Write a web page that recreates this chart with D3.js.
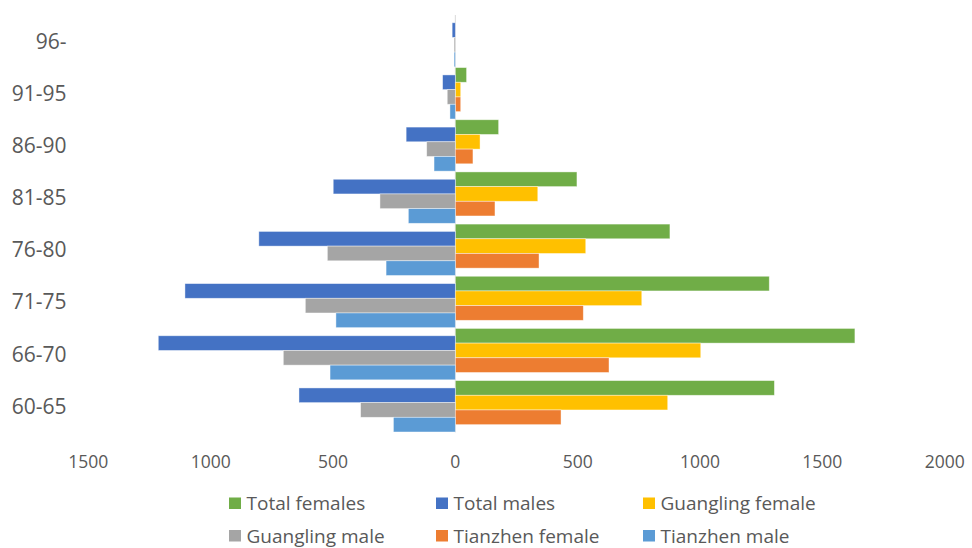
<!DOCTYPE html>
<html>
<head>
<meta charset="utf-8">
<script src="https://cdn.jsdelivr.net/npm/d3@7"></script>
<style>
  html, body { margin: 0; padding: 0; background: #fff; }
  svg { display: block; }
  text { font-family: "Open Sans", "Noto Sans", sans-serif; fill: #595959; }
</style>
</head>
<body>
<svg id="chart" width="972" height="548"></svg>
<script>
// Age groups, bottom to top
const categories = ["60-65", "66-70", "71-75", "76-80", "81-85", "86-90", "91-95", "96-"];

// Head counts per age group (males are drawn to the left of zero)
const totalFemales    = [1304, 1633, 1283, 877, 497, 177, 46, 0];
const totalMales      = [639, 1214, 1105, 803, 499, 201, 52, 13];
const guanglingFemale = [868, 1003, 762, 533, 337, 101, 22, 0];
const guanglingMale   = [387, 703, 613, 523, 308, 117, 33, 5];
const tianzhenFemale  = [432, 628, 523, 342, 162, 72, 22, 0];
const tianzhenMale    = [253, 512, 488, 283, 192, 87, 22, 5];

const tickValues = [-1500, -1000, -500, 0, 500, 1000, 1500, 2000];

const series = [
  { name: "Total females",    values: totalFemales,    sign: 1,  color: "#70AD47" },
  { name: "Total males",      values: totalMales,      sign: -1, color: "#4472C4" },
  { name: "Guangling female", values: guanglingFemale, sign: 1,  color: "#FFC000" },
  { name: "Guangling male",   values: guanglingMale,   sign: -1, color: "#A5A5A5" },
  { name: "Tianzhen female",  values: tianzhenFemale,  sign: 1,  color: "#ED7D31" },
  { name: "Tianzhen male",    values: tianzhenMale,    sign: -1, color: "#5B9BD5" }
];

const svg = d3.select("#chart");

const x = d3.scaleLinear().domain([-1500, 2000]).range([88.3, 944.7]);
const y = d3.scaleBand()
  .domain(categories.slice().reverse())
  .range([15, 432.4])
  .paddingInner(0.015)
  .paddingOuter(0.008);

// bars in a group overlap by half a bar: 6 series span 3.5 bar heights
const barH = y.bandwidth() / 3.5;

// zero line
svg.append("line")
  .attr("x1", x(0)).attr("x2", x(0))
  .attr("y1", 15).attr("y2", 432.4)
  .attr("stroke", "#d9d9d9").attr("stroke-width", 1);

// bars
series.forEach((s, si) => {
  svg.append("g")
    .selectAll("rect")
    .data(categories.map((c, i) => ({ c, v: s.values[i] * s.sign })))
    .join("rect")
    .attr("x", d => Math.min(x(0), x(d.v)))
    .attr("width", d => Math.abs(x(d.v) - x(0)))
    .attr("y", d => y(d.c) + si * barH / 2)
    .attr("height", barH)
    .attr("fill", s.color)
    .attr("stroke", "#ffffff")
    .attr("stroke-opacity", 0.55)
    .attr("stroke-width", 0.75);
});

// category labels
svg.append("g")
  .selectAll("text")
  .data(categories)
  .join("text")
  .attr("x", 66.5)
  .attr("y", d => y(d) + y.bandwidth() / 2 + 7.5)
  .attr("text-anchor", "end")
  .style("font-size", "21px")
  .text(d => d);

// value axis labels (absolute values on both sides)
svg.append("g")
  .selectAll("text")
  .data(tickValues)
  .join("text")
  .attr("x", d => x(d))
  .attr("y", 468)
  .attr("text-anchor", "middle")
  .style("font-size", "17.5px")
  .text(d => Math.abs(d));

// legend: three columns, two rows
const legendCols = [229, 436, 643];
const legendRows = [510, 542.5];
const legend = svg.append("g")
  .selectAll("g")
  .data(series)
  .join("g")
  .attr("transform", (d, i) => `translate(${legendCols[i % 3]},${legendRows[Math.floor(i / 3)]})`);

legend.append("rect")
  .attr("x", 0).attr("y", -12.5)
  .attr("width", 12).attr("height", 11.5)
  .attr("fill", d => d.color);

legend.append("text")
  .attr("x", 17.5).attr("y", 0)
  .style("font-size", "19px")
  .text(d => d.name);
</script>
</body>
</html>
